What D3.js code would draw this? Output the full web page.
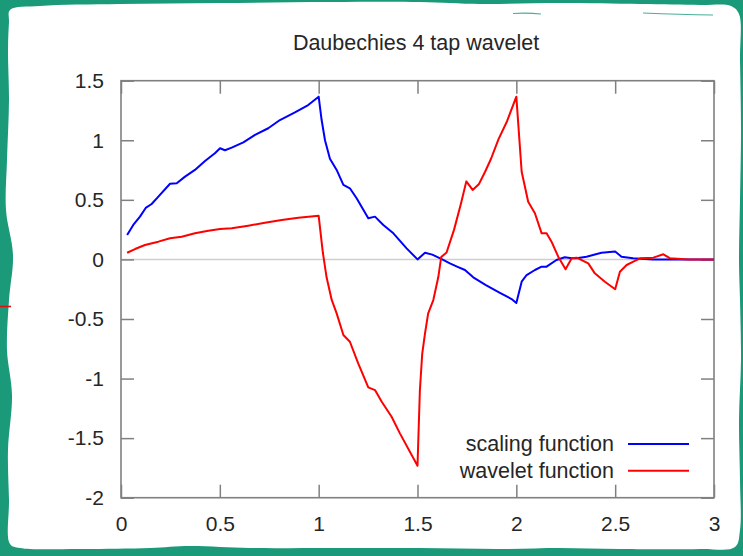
<!DOCTYPE html>
<html>
<head>
<meta charset="utf-8">
<script src="https://cdn.jsdelivr.net/npm/d3@7"></script>
<style>
  html, body { margin: 0; padding: 0; background: #1b9a7a; }
  svg { display: block; }
  text { font-family: "Liberation Sans", Arial, sans-serif; fill: #262626; }
</style>
</head>
<body>
<svg id="chart" width="743" height="556"></svg>
<script>
// Daubechies D4 scaling function phi(x) and wavelet psi(x), support [0, 3]
const scalingX = [0.031, 0.062, 0.096, 0.125, 0.155, 0.189, 0.248, 0.282, 0.324, 0.374, 0.425, 0.475, 0.501, 0.526, 0.560, 0.619, 0.678, 0.745, 0.804, 0.880, 0.947, 1.000,
  1.015, 1.032, 1.057, 1.091, 1.125, 1.158, 1.192, 1.251, 1.285, 1.327, 1.378, 1.445, 1.500, 1.538, 1.575, 1.625, 1.664, 1.700, 1.740, 1.782, 1.846, 1.917, 1.976, 2.000,
  2.027, 2.052, 2.094, 2.128, 2.153, 2.203, 2.245, 2.280, 2.305, 2.355, 2.431, 2.500, 2.532, 2.590, 2.690, 3.000];
const scalingY = [0.205, 0.289, 0.359, 0.432, 0.465, 0.527, 0.635, 0.639, 0.695, 0.751, 0.826, 0.891, 0.933, 0.916, 0.938, 0.983, 1.045, 1.101, 1.170, 1.235, 1.296, 1.366,
  1.170, 1.000, 0.845, 0.751, 0.625, 0.597, 0.513, 0.345, 0.359, 0.289, 0.219, 0.093, 0.000, 0.056, 0.040, 0.000, -0.033, -0.060, -0.089, -0.150, -0.215, -0.280, -0.333, -0.366,
  -0.187, -0.131, -0.089, -0.061, -0.061, -0.005, 0.018, 0.009, 0.009, 0.023, 0.056, 0.067, 0.023, 0.009, 0.000, 0.000];

const waveletX = [0.031, 0.071, 0.121, 0.189, 0.248, 0.307, 0.374, 0.442, 0.501, 0.560, 0.644, 0.728, 0.813, 0.897, 1.000,
  1.021, 1.040, 1.066, 1.091, 1.125, 1.158, 1.200, 1.251, 1.285, 1.319, 1.369, 1.411, 1.500,
  1.512, 1.524, 1.538, 1.554, 1.580, 1.605, 1.620, 1.647, 1.685, 1.720, 1.747, 1.779, 1.810, 1.842, 1.872, 1.910, 1.953, 2.000,
  2.027, 2.060, 2.094, 2.128, 2.153, 2.178, 2.212, 2.249, 2.280, 2.305, 2.364, 2.397, 2.448, 2.500, 2.524, 2.558, 2.592, 2.626, 2.693, 2.744, 2.778, 2.870, 3.000];
const waveletY = [0.056, 0.087, 0.121, 0.149, 0.177, 0.191, 0.219, 0.241, 0.255, 0.261, 0.283, 0.308, 0.331, 0.350, 0.366,
  0.060, -0.150, -0.340, -0.453, -0.635, -0.691, -0.872, -1.074, -1.097, -1.195, -1.321, -1.460, -1.732,
  -1.100, -0.790, -0.621, -0.453, -0.341, -0.150, 0.020, 0.058, 0.250, 0.470, 0.655, 0.583, 0.630, 0.736, 0.845, 1.010, 1.160, 1.366,
  0.736, 0.484, 0.387, 0.219, 0.219, 0.149, 0.023, -0.083, 0.009, 0.015, -0.033, -0.117, -0.187, -0.250, -0.103, -0.047, -0.019, 0.009, 0.015, 0.043, 0.009, 0.000, 0.000];

const xTicks = [0, 0.5, 1, 1.5, 2, 2.5, 3];
const yTicks = [-2, -1.5, -1, -0.5, 0, 0.5, 1, 1.5];
const seriesNames = ["scaling function", "wavelet function"];
const seriesColors = ["#0000ff", "#ff0000"];
const titleText = "Daubechies 4 tap wavelet";

const svg = d3.select("#chart");
const W = 743, H = 556;

// background card with hand-torn edges
svg.append("rect").attr("width", W).attr("height", H).attr("fill", "#1b9a7a");
const cardOutline = [
  [10, 10], [40, 6], [120, 4], [220, 3], [330, 2], [420, 2], [480, 4], [560, 3], [640, 4], [700, 5], [731, 6],
  [739, 14], [740, 60], [741, 130], [740, 200], [739, 260], [740, 300], [741, 360], [739, 420], [740, 480], [740, 530], [735, 547],
  [700, 549], [620, 549], [560, 548], [500, 549], [420, 548], [330, 548], [250, 548], [190, 546], [150, 548], [80, 549], [20, 548], [10, 544],
  [9, 500], [8, 450], [12, 395], [7, 350], [9, 300], [13, 255], [6, 210], [7, 160], [9, 100], [8, 50], [9, 22]
];
svg.append("path")
  .attr("d", d3.line().curve(d3.curveCatmullRomClosed.alpha(0.5))(cardOutline))
  .attr("fill", "#ffffff");
// small marker strokes around the card
svg.append("path").attr("d", "M513,13.5 Q527,12.5 541,14").attr("stroke", "#1b9a7a").attr("stroke-width", 1.2).attr("fill", "none").attr("opacity", 0.8);
svg.append("path").attr("d", "M643,13 Q680,14.5 713,15").attr("stroke", "#1b9a7a").attr("stroke-width", 1.2).attr("fill", "none").attr("opacity", 0.8);
svg.append("line").attr("x1", 0).attr("x2", 11).attr("y1", 306.5).attr("y2", 306.5).attr("stroke", "#e01010").attr("stroke-width", 1.6);

// plot area
const x = d3.scaleLinear().domain([0, 3]).range([121, 714]);
const y = d3.scaleLinear().domain([-2, 1.5]).range([497.7, 80.7]);

const fmt = d => String(d);
const axisColor = "#808080";

// zero line
svg.append("line")
  .attr("x1", x(0)).attr("x2", x(3))
  .attr("y1", y(0)).attr("y2", y(0))
  .attr("stroke", "#cfcfcf").attr("stroke-width", 1.5);

function styleAxis(g) {
  g.select(".domain").remove();
  g.selectAll(".tick line").attr("stroke", axisColor).attr("stroke-width", 1.5);
  g.selectAll(".tick text").attr("font-size", 21).attr("fill", "#262626")
    .attr("font-family", "'Liberation Sans', Arial, sans-serif");
}

svg.append("g").attr("transform", `translate(0,${y(-2)})`)
  .call(d3.axisBottom(x).tickValues(xTicks).tickFormat(fmt).tickSizeInner(-13).tickSizeOuter(0).tickPadding(18))
  .call(styleAxis);
svg.append("g").attr("transform", `translate(0,${y(1.5)})`)
  .call(d3.axisTop(x).tickValues(xTicks).tickFormat("").tickSizeInner(-13).tickSizeOuter(0))
  .call(styleAxis);
svg.append("g").attr("transform", `translate(${x(0)},0)`)
  .call(d3.axisLeft(y).tickValues(yTicks).tickFormat(fmt).tickSizeInner(-13).tickSizeOuter(0).tickPadding(17))
  .call(styleAxis);
svg.append("g").attr("transform", `translate(${x(3)},0)`)
  .call(d3.axisRight(y).tickValues(yTicks).tickFormat("").tickSizeInner(-13).tickSizeOuter(0))
  .call(styleAxis);

// border
svg.append("rect")
  .attr("x", x(0)).attr("y", y(1.5))
  .attr("width", x(3) - x(0)).attr("height", y(-2) - y(1.5))
  .attr("fill", "none").attr("stroke", axisColor).attr("stroke-width", 1.6);

// curves
const line = d3.line().x(d => x(d[0])).y(d => y(d[1]));
const series = [
  d3.zip(scalingX, scalingY),
  d3.zip(waveletX, waveletY)
];
series.forEach((pts, i) => {
  svg.append("path")
    .datum(pts)
    .attr("d", line)
    .attr("fill", "none")
    .attr("stroke", seriesColors[i])
    .attr("stroke-width", 2)
    .attr("stroke-linejoin", "round");
});

// title
svg.append("text")
  .attr("x", 416).attr("y", 49.5)
  .attr("text-anchor", "middle")
  .attr("font-size", 21.5)
  .text(titleText);

// legend
const legendY = [444, 470.7];
seriesNames.forEach((name, i) => {
  svg.append("text")
    .attr("x", 614).attr("y", legendY[i] + 7)
    .attr("text-anchor", "end")
    .attr("font-size", 21.5)
    .text(name);
  svg.append("line")
    .attr("x1", 628).attr("x2", 689)
    .attr("y1", legendY[i]).attr("y2", legendY[i])
    .attr("stroke", seriesColors[i]).attr("stroke-width", 2);
});
</script>
</body>
</html>
